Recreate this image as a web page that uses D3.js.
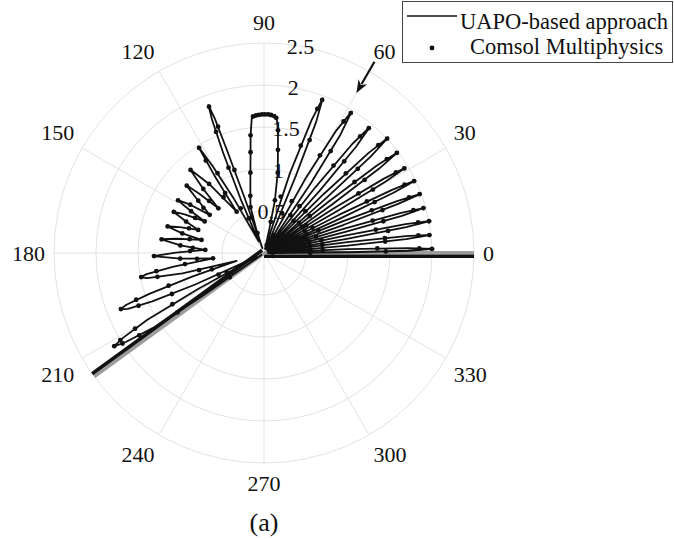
<!DOCTYPE html>
<html>
<head>
<meta charset="utf-8">
<script src="https://cdn.jsdelivr.net/npm/d3@7"></script>
<style>
body { margin: 0; background: #fff; }
svg text { font-family: "Liberation Serif", "Times New Roman", serif; fill: #111; }
</style>
</head>
<body>
<svg id="chart" width="674" height="540"></svg>
<script>
// angles in degrees, counter-clockwise from 0; values on the radial axis
var angleTicks = [0, 30, 60, 90, 120, 150, 180, 210, 240, 270, 300, 330];
var radialTicks = [0.5, 1, 1.5, 2, 2.5];
var radialLabelAngle = 80;

// UAPO-based approach, traced as [angle, value]
var uapoFan = [
  [0,0.04],[0.5,1.0],[0.9,1.72],[1.4,2.02],[1.9,1.72],[2.6,1.0],[3.8,0.05],
  [5.0,1.0],[5.6,1.7],[6.2,2.0],[6.8,1.7],[7.4,1.0],[8.55,0.05],
  [9.7,1.0],[10.3,1.72],[10.9,2.02],[11.5,1.72],[12.1,1.0],[13.3,0.05],
  [14.5,1.0],[15.1,1.7],[15.7,1.99],[16.3,1.7],[16.9,1.0],[18.2,0.05],
  [19.45,1.0],[20.1,1.7],[20.7,2.0],[21.3,1.7],[21.95,1.0],[23.15,0.05],
  [24.3,1.0],[24.95,1.7],[25.6,2.0],[26.25,1.7],[26.95,1.0],[28.35,0.05],
  [29.75,1.0],[30.4,1.68],[31.1,1.97],[31.8,1.68],[32.55,1.0],[34.05,0.05],
  [35.5,1.0],[36.25,1.7],[37.0,2.0],[37.75,1.7],[38.5,1.0],[39.95,0.05],
  [41.4,1.0],[42.15,1.72],[42.9,2.02],[43.75,1.72],[44.65,1.0],[46.45,0.05],
  [48.2,1.0],[49.1,1.67],[50.0,1.96],[51.0,1.67],[52.0,1.0],[54.1,0.05],
  [56.1,1.0],[57.15,1.68],[58.2,1.98],[59.5,1.68],[60.9,1.0],[63.7,0.05],
  [67.6,1.0],[68.3,1.68],[69.2,1.97],[70.3,1.68],[72.0,1.0],[76.5,0.05]
];
var uapoMain = [
  [77.5,0.3],[78.3,0.64],[80.3,0.97],[82.3,1.24],[83.5,1.47],[84.6,1.61],[87.0,1.645],
  [90.0,1.65],[93.0,1.645],[95.2,1.61],[96.5,1.41],[97.6,1.21],[99.6,0.97],[102.5,0.75],
  [106.4,0.57],[108.0,0.3],[108.6,0.06]
];
var uapoLeft = [
  [109.4,0.7],[109.8,1.3],[110.1,1.7],[110.6,1.88],[111.3,1.7],[112.2,1.28],[113.4,0.7],[114.5,0.15],
  [119.0,0.75],[120.6,1.2],[121.7,1.49],[122.6,1.1],[123.5,0.59],
  [128.5,1.05],[131.5,1.33],[133.5,1.05],[135.6,0.76],
  [137.5,1.05],[138.9,1.23],[141.5,1.0],[144.9,0.79],
  [146.8,1.05],[148.5,1.21],[150.2,1.0],[152.0,0.8],
  [154.0,1.05],[155.5,1.19],[158.0,1.0],[160.7,0.83],
  [163.0,1.05],[164.6,1.2],[166.5,1.0],[168.2,0.76],
  [170.7,1.05],[172.4,1.24],[174.8,1.0],[177.0,0.7],
  [179.8,1.05],[181.6,1.32],[183.8,1.0],[186.0,0.61],
  [188.6,1.1],[190.2,1.42],[191.1,1.5],[192.2,1.42],[194.0,1.0],[196.0,0.34],
  [198.2,0.9],[199.6,1.45],[200.6,1.75],[201.4,1.84],[202.3,1.75],[203.4,1.45],[204.6,0.9],[206.5,0.1],
  [208.6,0.9],[209.8,1.6],[211.0,1.95],[211.9,2.11],[212.8,1.95],[214.0,1.6],[215.0,0.9],[215.8,0.03]
];

// Comsol Multiphysics samples
var comsolCore = [
  [2,0.1],[6,0.13],[11,0.1],[17,0.14],[23,0.1],[29,0.13],[35,0.1],[41,0.14],[47,0.1],[53,0.13],
  [59,0.1],[65,0.13],[71,0.1],[4,0.22],[14,0.24],[26,0.22],[38,0.24],[50,0.22],[62,0.24],[9,0.32],[33,0.3]
];
var comsolFan = [
  [1.4,2.0],[0.75,1.45],[0.25,0.55],[1.7,1.85],[2.3,1.35],[3.0,0.7],
  [6.2,1.98],[5.4,1.45],[4.4,0.55],[6.5,1.85],[7.0,1.45],[7.8,0.7],
  [10.9,2.0],[10.1,1.5],[9.1,0.55],[11.2,1.87],[11.8,1.36],[12.5,0.7],
  [15.7,1.97],[14.9,1.47],[13.9,0.55],[16.0,1.85],[16.6,1.35],[17.4,0.65],
  [20.7,1.98],[19.9,1.5],[18.8,0.52],[21.0,1.85],[21.6,1.38],[22.4,0.7],
  [25.6,1.98],[24.7,1.45],[23.7,0.55],[25.9,1.86],[26.6,1.37],[27.5,0.65],
  [31.1,1.95],[30.2,1.5],[29.0,0.55],[31.4,1.84],[32.2,1.33],[33.2,0.6],
  [37.0,1.98],[36.0,1.48],[34.8,0.55],[37.4,1.84],[38.1,1.37],[39.0,0.7],
  [42.9,2.0],[41.9,1.5],[40.7,0.55],[43.3,1.87],[44.2,1.36],[45.3,0.7],
  [50.0,1.94],[48.8,1.45],[47.3,0.52],[50.5,1.8],[51.5,1.33],[52.8,0.7],
  [58.2,1.96],[56.8,1.45],[55.1,0.55],[58.8,1.83],[60.2,1.34],[61.8,0.7],
  [69.2,1.95],[68.0,1.45],[65.6,0.52],[69.7,1.83],[71.1,1.35],[73.5,0.7]
];
var comsolMain = [
  [94.6,1.63],[93.3,1.64],[92.1,1.645],[90.8,1.65],[89.6,1.65],[88.3,1.65],[87.1,1.645],[85.8,1.635],[84.8,1.615],
  [96.5,1.41],[97.6,1.21],[99.6,0.97],[103.5,0.7],[106.4,0.57],[108.1,0.25],
  [83.5,1.47],[82.3,1.24],[80.3,0.97],[78.3,0.64],[77.7,0.38]
];
var comsolLeft = [
  [110.6,1.86],[110.0,1.6],[109.6,1.05],[109.1,0.45],[111.6,1.55],[112.6,1.1],[113.9,0.45],
  [121.7,1.47],[120.2,1.1],[117.5,0.6],[122.2,1.3],[123.0,0.85],[123.5,0.59],
  [126.0,0.82],[128.5,1.05],[131.5,1.32],[133.5,1.05],[135.6,0.76],
  [136.5,0.9],[138.9,1.22],[141.5,1.0],[143.3,0.9],[144.9,0.79],
  [146.8,1.05],[148.5,1.2],[150.2,1.0],[152.0,0.8],
  [153.0,0.92],[155.5,1.18],[158.0,1.0],[160.7,0.83],
  [161.8,0.94],[164.6,1.19],[166.5,1.0],[168.2,0.76],
  [169.5,0.9],[172.4,1.23],[174.8,1.0],[175.9,0.85],[177.0,0.7],
  [178.5,0.88],[181.6,1.31],[183.8,1.0],[185.0,0.8],[186.0,0.61],
  [188.0,0.95],[189.6,1.3],[191.1,1.49],[192.6,1.3],[194.8,0.8],
  [197.4,0.65],[198.9,1.2],[200.1,1.62],[201.4,1.83],[202.8,1.62],[204.0,1.2],[205.3,0.6],
  [207.6,0.5],[209.2,1.25],[210.4,1.78],[211.2,2.0],[211.9,2.1],[212.6,2.0],[213.4,1.78],[214.5,1.25],[215.4,0.5]
];

// wedge faces and the arrow annotation (angle, from value, to value)
var wedgeFaces = [0, 216];
var arrowNote = [60, 2.63, 2.2];

var cx = 264, cy = 253, R = 210;
var FONT = '"Liberation Serif", "Times New Roman", serif';
var svg = d3.select("#chart");
var r = d3.scaleLinear().domain([0, 2.5]).range([0, R]);

function toRad(deg) { return deg * Math.PI / 180; }
function px(deg, v) { return r(v) * Math.cos(toRad(deg)); }
function py(deg, v) { return -r(v) * Math.sin(toRad(deg)); }

var g = svg.append("g").attr("transform", "translate(" + cx + "," + cy + ")");

// grid
g.selectAll(".ring").data(radialTicks).enter().append("circle")
  .attr("r", function(d) { return r(d); })
  .attr("fill", "none").attr("stroke", "#e2e2e2").attr("stroke-width", 1);
g.selectAll(".spoke").data(angleTicks).enter().append("line")
  .attr("x1", 0).attr("y1", 0)
  .attr("x2", function(d) { return px(d, 2.5); })
  .attr("y2", function(d) { return py(d, 2.5); })
  .attr("stroke", "#e2e2e2").attr("stroke-width", 1);

// radial tick labels
g.selectAll(".rlab").data(radialTicks).enter().append("text")
  .attr("x", function(d) { return px(radialLabelAngle, d); })
  .attr("y", function(d) { return py(radialLabelAngle, d) + 7.5; })
  .attr("text-anchor", "middle")
  .attr("font-family", FONT)
  .style("font-size", "22px")
  .text(function(d) { return d; });

// wedge faces: grey inner edge, black outer edge
wedgeFaces.forEach(function(a) {
  var nx = Math.cos(toRad(a - 90)), ny = -Math.sin(toRad(a - 90));
  [[ -0.3, "#9c9c9c", 3.4 ], [ 3.3, "#111", 3.6 ]].forEach(function(s) {
    g.append("line")
      .attr("x1", nx * s[0]).attr("y1", ny * s[0])
      .attr("x2", px(a, 2.5) + nx * s[0]).attr("y2", py(a, 2.5) + ny * s[0])
      .attr("stroke", s[1]).attr("stroke-width", s[2]);
  });
});

// UAPO curve
var uapo = uapoFan.concat(uapoMain, uapoLeft);
var radial = d3.lineRadial()
  .angle(function(d) { return toRad(90 - d[0]); })
  .radius(function(d) { return r(d[1]); });
g.append("path").datum(uapo)
  .attr("d", radial)
  .attr("fill", "none").attr("stroke", "#111").attr("stroke-width", 1.8)
  .attr("stroke-linejoin", "round");

// Comsol points
var comsol = comsolCore.concat(comsolFan, comsolMain, comsolLeft);
g.selectAll(".pt").data(comsol).enter().append("circle")
  .attr("cx", function(d) { return px(d[0], d[1]); })
  .attr("cy", function(d) { return py(d[0], d[1]); })
  .attr("r", 2.4).attr("fill", "#111");

// arrow
var ax1 = px(arrowNote[0], arrowNote[1]), ay1 = py(arrowNote[0], arrowNote[1]);
var ax2 = px(arrowNote[0], arrowNote[2]), ay2 = py(arrowNote[0], arrowNote[2]);
var ux = (ax2 - ax1), uy = (ay2 - ay1), L = Math.sqrt(ux * ux + uy * uy);
ux /= L; uy /= L;
var hl = 13, hw = 5;
g.append("line")
  .attr("x1", ax1).attr("y1", ay1)
  .attr("x2", ax2 - ux * hl * 0.8).attr("y2", ay2 - uy * hl * 0.8)
  .attr("stroke", "#111").attr("stroke-width", 2.2);
g.append("path")
  .attr("d", "M" + ax2 + "," + ay2 +
    "L" + (ax2 - ux * hl - uy * hw) + "," + (ay2 - uy * hl + ux * hw) +
    "L" + (ax2 - ux * hl * 0.7) + "," + (ay2 - uy * hl * 0.7) +
    "L" + (ax2 - ux * hl + uy * hw) + "," + (ay2 - uy * hl - ux * hw) + "Z")
  .attr("fill", "#111");

// angle labels
var labR = 219;
g.selectAll(".alab").data(angleTicks).enter().append("text")
  .attr("x", function(d) { return labR * Math.cos(toRad(d)); })
  .attr("y", function(d) {
    var s = Math.sin(toRad(d)), y = -labR * s;
    if (s > 0.1) return y - 4;
    if (s < -0.1) return y + 19;
    return y + 7.5;
  })
  .attr("text-anchor", function(d) {
    var c = Math.cos(toRad(d));
    return c > 0.1 ? "start" : (c < -0.1 ? "end" : "middle");
  })
  .attr("font-family", FONT)
  .style("font-size", "22px")
  .text(function(d) { return d; });

// legend
var lg = svg.append("g");
lg.append("rect").attr("x", 402.5).attr("y", 1.5).attr("width", 270).attr("height", 61)
  .attr("fill", "#fff").attr("stroke", "#444").attr("stroke-width", 1);
lg.append("line").attr("x1", 407).attr("x2", 457).attr("y1", 16).attr("y2", 16)
  .attr("stroke", "#111").attr("stroke-width", 1.6);
lg.append("text").attr("x", 460).attr("y", 29).attr("font-family", FONT)
  .style("font-size", "22.5px").text("UAPO-based approach");
lg.append("circle").attr("cx", 432).attr("cy", 48).attr("r", 2.4).attr("fill", "#111");
lg.append("text").attr("x", 470).attr("y", 53.5).attr("font-family", FONT)
  .style("font-size", "22.5px").text("Comsol Multiphysics");

// caption
svg.append("text").attr("x", 264).attr("y", 531).attr("text-anchor", "middle")
  .attr("font-family", FONT)
  .style("font-size", "26px").text("(a)");
</script>
</body>
</html>
